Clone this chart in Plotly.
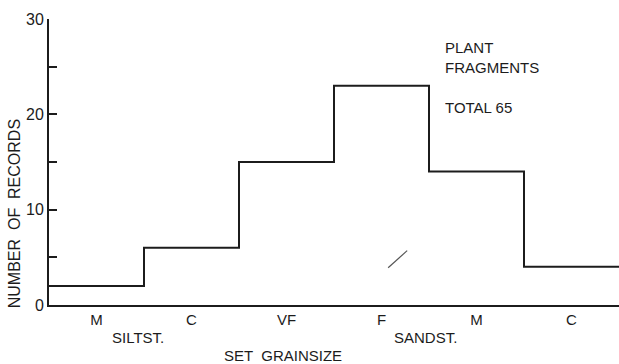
import plotly.graph_objects as go

# Grain-size classes (set grainsize) and record counts per class
categories = ["M", "C", "VF", "F", "M", "C"]
counts = [2, 6, 15, 23, 14, 4]
groups = ["SILTST.", "SANDST."]
group_pos = [0.94, 3.96]
y_ticks = [0, 5, 10, 15, 20, 25, 30]
y_ticklabels = ["0", "", "10", "", "20", "", "30"]

ink = "#1c1c1c"
font = "Liberation Sans"

# class boundaries on the x scale: one unit per class
edges = list(range(len(counts) + 1))
centers = [i + 0.5 for i in range(len(counts))]

fig = go.Figure()
fig.add_trace(go.Scatter(
    x=edges,
    y=counts + [counts[-1]],
    mode="lines",
    line=dict(shape="hv", color=ink, width=2),
    hoverinfo="skip",
    showlegend=False,
))

# small pen stroke inside the plot
fig.add_shape(type="line", xref="x", yref="y",
              x0=3.57, y0=3.9, x1=3.77, y1=5.7,
              line=dict(color="#555555", width=1.2))

fig.update_layout(
    width=619, height=364,
    margin=dict(l=49, r=0, t=19, b=59),
    paper_bgcolor="white", plot_bgcolor="white",
    font=dict(family=font, size=15, color=ink),
    xaxis=dict(
        range=[0, len(counts)],
        tickvals=centers, ticktext=categories,
        showline=True, linecolor=ink, linewidth=2,
        showgrid=False, zeroline=False, ticks="",
        ticklabelstandoff=0,
        tickfont=dict(size=15),
    ),
    yaxis=dict(
        range=[0, 30],
        tickvals=y_ticks, ticktext=y_ticklabels,
        showline=True, linecolor=ink, linewidth=2,
        showgrid=False, zeroline=False,
        ticks="inside", ticklen=8, tickwidth=2, tickcolor=ink,
        tickfont=dict(size=16),
    ),
)

for g, gx in zip(groups, group_pos):
    fig.add_annotation(x=gx, y=-0.112, xref="x", yref="paper",
                       yanchor="middle", text=g, showarrow=False,
                       font=dict(size=15))

fig.add_annotation(x=2.46, y=-0.175, xref="x", yref="paper", yanchor="middle",
                   text="SET  GRAINSIZE", showarrow=False, font=dict(size=15))

fig.add_annotation(x=-0.061, y=0.318, xref="paper", yref="paper",
                   xanchor="center", yanchor="middle",
                   text="NUMBER  OF  RECORDS", showarrow=False, textangle=-90,
                   font=dict(size=16))

fig.add_annotation(x=0.691, y=0.902, xref="paper", yref="paper",
                   text="PLANT", showarrow=False,
                   xanchor="left", yanchor="middle", font=dict(size=15))
fig.add_annotation(x=0.691, y=0.829, xref="paper", yref="paper",
                   text="FRAGMENTS", showarrow=False,
                   xanchor="left", yanchor="middle", font=dict(size=15))
fig.add_annotation(x=0.691, y=0.689, xref="paper", yref="paper",
                   text="TOTAL 65", showarrow=False,
                   xanchor="left", yanchor="middle", font=dict(size=15))

fig.write_html("out.html")
